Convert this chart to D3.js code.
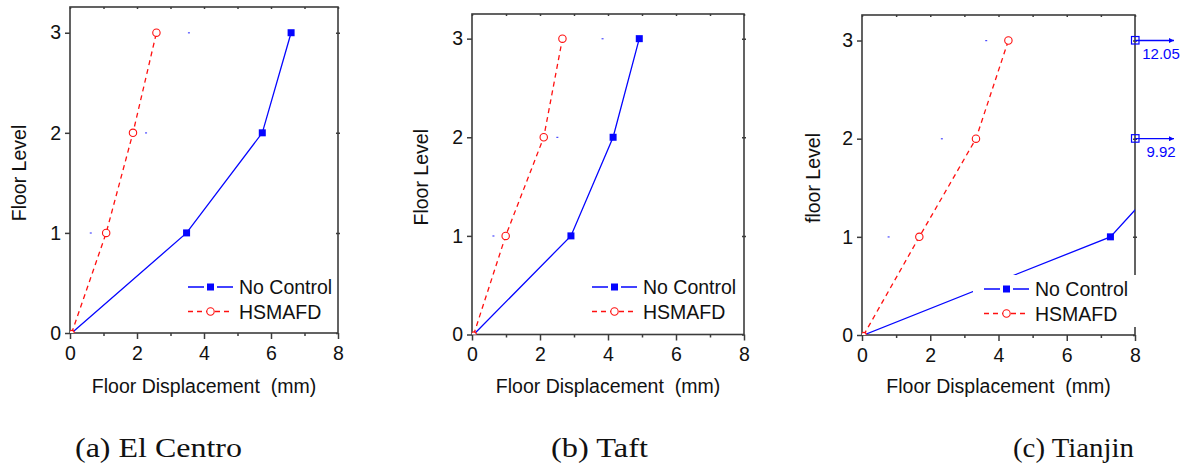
<!DOCTYPE html>
<html>
<head>
<meta charset="utf-8">
<script src="https://cdn.jsdelivr.net/npm/d3@7"></script>
<style>
  html,body{margin:0;padding:0;background:#fff;}
  svg{display:block;}
</style>
</head>
<body>
<svg id="chart" width="1184" height="468"></svg>
<script>
// ---------------- data ----------------
const levels = [0, 1, 2, 3];
const xTicks = [0, 2, 4, 6, 8];
const xMinorTicks = [1, 3, 5, 7];
const yTicks = [0, 1, 2, 3];
const seriesNames = ["No Control", "HSMAFD"];

const noControlA = [0.05, 3.48, 5.74, 6.60];
const hsmafdA    = [0.05, 1.08, 1.88, 2.58];
const strayA     = [null, 0.62, 2.27, 3.55];

const noControlB = [0.05, 2.91, 4.15, 4.92];
const hsmafdB    = [0.05, 0.99, 2.11, 2.66];
const strayB     = [null, 0.63, 2.51, 3.84];

const noControlC = [0.05, 7.28, 9.92, 12.05];
const hsmafdC    = [0.05, 1.68, 3.34, 4.29];
const strayC     = [null, 0.78, 2.34, 3.64];

const yTitles  = ["Floor Level", "Floor Level", "floor Level"];
const xTitle   = "Floor Displacement  (mm)";
const captions = ["(a) El Centro", "(b) Taft", "(c) Tianjin"];

// ---------------- layout ----------------
const layout = [
  {left:70,  right:338,  top:7,  bottom:333,   yMax:3.257, yTitleX:26,  legX:188, legY:287, bg:null, capX:158.5, capW:167},
  {left:472, right:744,  top:14, bottom:334.5, yMax:3.25,  yTitleX:428, legX:592, legY:287, bg:null, capX:599.5, capW:97},
  {left:862, right:1135, top:15, bottom:335,   yMax:3.26,  yTitleX:820, legX:984, legY:289, bg:[973,275,168,52], capX:1073.5, capW:121}
];
const panelData = [
  {nc:noControlA, hs:hsmafdA, stray:strayA},
  {nc:noControlB, hs:hsmafdB, stray:strayB},
  {nc:noControlC, hs:hsmafdC, stray:strayC}
];

const BLUE = "#0505ff", RED = "#ff1010", AX = "#3c3c3c";
const SANS = "'Liberation Sans', Arial, sans-serif";
const SERIF = "'Liberation Serif', 'DejaVu Serif', serif";
const FS = 19.5;
const svg = d3.select("#chart");
const defs = svg.append("defs");
defs.append("marker").attr("id","arrowBlue").attr("viewBox","0 0 10 10")
  .attr("refX",10).attr("refY",5).attr("markerWidth",8).attr("markerHeight",5)
  .attr("markerUnits","userSpaceOnUse").attr("orient","auto")
  .append("path").attr("d","M0,0L10,5L0,10Z").attr("fill",BLUE);

const sans = (sel, size) => sel.style("font-family", SANS).style("font-size", size + "px");

panelData.forEach((pd, i) => {
  const L = layout[i];
  const x = d3.scaleLinear().domain([0, 8]).range([L.left, L.right]);
  const y = d3.scaleLinear().domain([0, L.yMax]).range([L.bottom, L.top]);
  const g = svg.append("g");

  defs.append("clipPath").attr("id","clip"+i).append("rect")
    .attr("x",L.left).attr("y",L.top).attr("width",L.right-L.left).attr("height",L.bottom-L.top);

  // ---- axes ----
  const fmt = d3.format("d");
  const styleAxis = sel => {
    sel.select(".domain").remove();
    sel.selectAll("line").attr("stroke",AX).attr("stroke-width",1.5);
    sel.selectAll("text").attr("fill","#111").call(s => sans(s, FS));
  };
  g.append("g").attr("transform",`translate(0,${L.bottom})`)
    .call(d3.axisBottom(x).tickValues(xTicks).tickSize(6).tickPadding(7).tickFormat(fmt)).call(styleAxis);
  g.append("g").attr("transform",`translate(0,${L.bottom})`)
    .call(d3.axisBottom(x).tickValues(xMinorTicks).tickSize(3).tickFormat("")).call(styleAxis);
  g.append("g").attr("transform",`translate(${L.left},0)`)
    .call(d3.axisLeft(y).tickValues(yTicks).tickSize(5).tickPadding(4).tickFormat(fmt)).call(styleAxis);
  g.append("g").attr("transform",`translate(0,${L.top})`)
    .call(d3.axisBottom(x).tickValues(xTicks.concat(xMinorTicks)).tickSize(2).tickFormat("")).call(styleAxis);
  g.append("g").attr("transform",`translate(${L.right},0)`)
    .call(d3.axisRight(y).tickValues(yTicks).tickSize(-2).tickFormat("")).call(styleAxis);
  g.append("g").attr("transform",`translate(${L.right},0)`)
    .call(d3.axisRight(y).tickValues(yTicks.slice(1)).tickSize(2).tickFormat("")).call(styleAxis);

  // frame
  g.append("rect").attr("x",L.left).attr("y",L.top)
    .attr("width",L.right-L.left).attr("height",L.bottom-L.top)
    .attr("fill","none").attr("stroke",AX).attr("stroke-width",1.6);

  // titles
  g.append("text").attr("transform",`translate(${L.yTitleX},${(L.top+L.bottom)/2+3}) rotate(-90)`)
    .attr("text-anchor","middle").attr("fill","#111").call(s => sans(s, FS)).text(yTitles[i]);
  g.append("text").attr("x",(L.left+L.right)/2).attr("y",393)
    .attr("text-anchor","middle").attr("fill","#111").call(s => sans(s, FS))
    .style("white-space","pre").text(xTitle);

  // ---- data ----
  const plot = g.append("g").attr("clip-path",`url(#clip${i})`);
  const line = d3.line().x(d => x(d[0])).y(d => y(d[1]));
  const ncPts = pd.nc.map((v,k)=>[v, levels[k]]);
  const hsPts = pd.hs.map((v,k)=>[v, levels[k]]);

  plot.selectAll(".stray").data(pd.stray.map((v,k)=>[v,levels[k]]).filter(d=>d[0]!==null))
    .join("rect").attr("x",d=>x(d[0])-1).attr("y",d=>y(d[1])-0.5).attr("width",2).attr("height",1.2)
    .attr("fill","#4a4aff");

  plot.append("path").datum(ncPts).attr("d",line).attr("fill","none")
    .attr("stroke",BLUE).attr("stroke-width",1.3);
  plot.append("path").datum(hsPts).attr("d",line).attr("fill","none")
    .attr("stroke",RED).attr("stroke-width",1.3).attr("stroke-dasharray","5,4");

  plot.selectAll(".ncm").data(ncPts.filter(d=>d[1]>0 && d[0]<=8)).join("rect")
    .attr("x",d=>x(d[0])-3.5).attr("y",d=>y(d[1])-3.5).attr("width",7).attr("height",7).attr("fill",BLUE);
  plot.selectAll(".hsm").data(hsPts).join("circle")
    .attr("cx",d=>x(d[0])).attr("cy",d=>y(d[1])).attr("r",d=>d[1]>0?3.7:2.6)
    .attr("fill","#fff").attr("stroke",RED).attr("stroke-width",1.1);

  // off-scale indicators
  const off = ncPts.filter(d=>d[0]>8);
  off.forEach(d => {
    const px = x(8), py = y(d[1]);
    g.append("line").attr("x1",px).attr("x2",px+39).attr("y1",py).attr("y2",py)
      .attr("stroke",BLUE).attr("stroke-width",1.3).attr("marker-end","url(#arrowBlue)");
    g.append("rect").attr("x",px-3.5).attr("y",py-4).attr("width",7.5).attr("height",7.5)
      .attr("fill","none").attr("stroke",BLUE).attr("stroke-width",1.2);
    g.append("text").attr("x",px+26).attr("y",py+18).attr("text-anchor","middle")
      .attr("fill",BLUE).call(s => sans(s, 15)).text(d3.format(".2f")(d[0]));
  });

  // ---- legend ----
  const leg = g.append("g");
  if (L.bg) leg.append("rect").attr("x",L.bg[0]).attr("y",L.bg[1]).attr("width",L.bg[2]).attr("height",L.bg[3]).attr("fill","#fff");
  seriesNames.forEach((name, k) => {
    const ly = L.legY + k*24.5;
    const row = leg.append("g");
    row.append("line").attr("x1",L.legX).attr("x2",L.legX+45).attr("y1",ly).attr("y2",ly)
      .attr("stroke",k===0?BLUE:RED).attr("stroke-width",1.3)
      .attr("stroke-dasharray",k===0?"16,13,16":"5,4");
    if (k===0) row.append("rect").attr("x",L.legX+22.5-3.5).attr("y",ly-3.5).attr("width",7).attr("height",7).attr("fill",BLUE);
    else row.append("circle").attr("cx",L.legX+22.5).attr("cy",ly).attr("r",3.7)
      .attr("fill","#fff").attr("stroke",RED).attr("stroke-width",1.1);
    row.append("text").attr("x",L.legX+51).attr("y",ly+7).attr("fill","#111").call(s => sans(s, FS)).text(name);
  });

  // caption
  svg.append("text").attr("x",L.capX - L.capW/2).attr("y",457)
    .attr("textLength",L.capW).attr("lengthAdjust","spacingAndGlyphs")
    .style("font-family",SERIF).style("font-size","27px")
    .attr("fill","#111").text(captions[i]);
});
</script>
</body>
</html>
